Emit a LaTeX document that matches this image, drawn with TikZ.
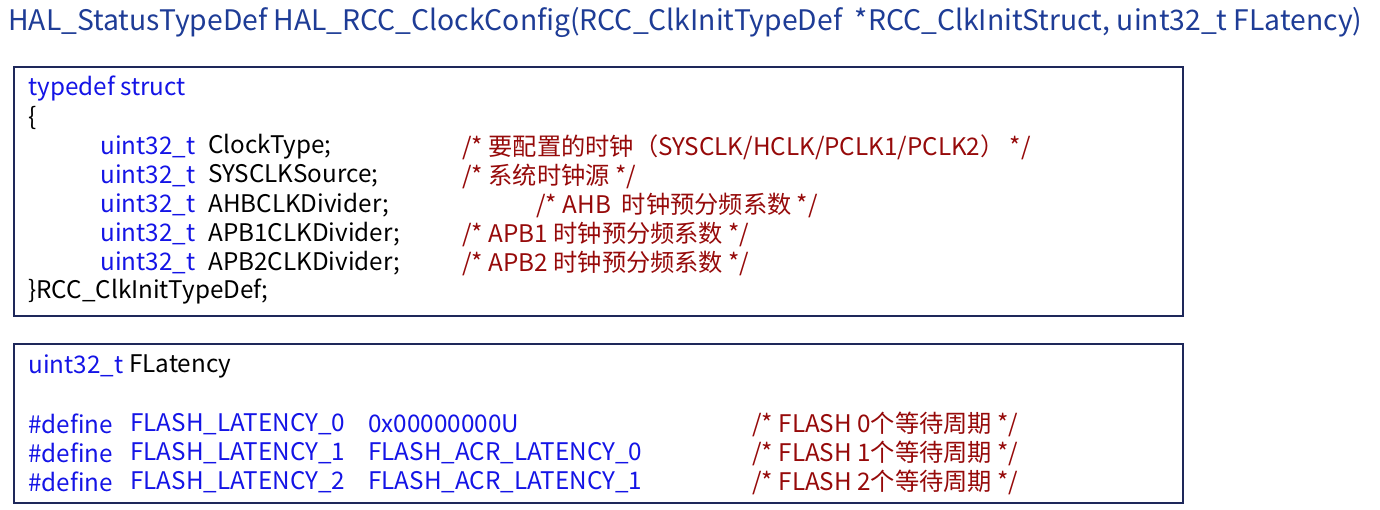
\documentclass[tikz,border=0pt]{standalone}
\usepackage{fontspec}
\setmainfont{Noto Sans CJK SC}
\definecolor{kw}{RGB}{20,20,230}
\definecolor{cm}{RGB}{150,10,10}
\definecolor{tt}{RGB}{30,60,150}
\definecolor{bd}{RGB}{30,40,90}
\begin{document}
\begin{tikzpicture}[x=0.02cm,y=-0.02cm,
 t/.style={anchor=west,inner sep=0pt,font=\fontsize{13.8pt}{15pt}\selectfont},
 k/.style={t,text=kw}, c/.style={t,text=cm},
 box/.style={draw=bd,line width=1.2pt}]
\useasboundingbox (0,0) rectangle (1380,510);
\node[anchor=west,inner sep=0pt,text=tt,font=\fontsize{16.1pt}{17pt}\selectfont] (title) at (8,22) {HAL\_StatusTypeDef HAL\_RCC\_ClockConfig(RCC\_ClkInitTypeDef\ \ *RCC\_ClkInitStruct, uint32\_t FLatency)};
\draw[box] (14,67) rectangle (1183,316);
\draw[box] (14,344) rectangle (1183,503);
\node[k] (a1) at (28,89) {typedef struct};
\node[t] (a2) at (28,118) {\{};
\foreach \y/\n/\cmt/\cx in {147/ClockType;/{/* 要配置的时钟（SYSCLK/HCLK/PCLK1/PCLK2） */}/462,
 176/SYSCLKSource;/{/* 系统时钟源 */}/462,
 205/AHBCLKDivider;/{/* AHB\ \ 时钟预分频系数 */}/536,
 234/APB1CLKDivider;/{/* APB1 时钟预分频系数 */}/462,
 263/APB2CLKDivider;/{/* APB2 时钟预分频系数 */}/462}{
 \node[k] (u\y) at (100,\y) {uint32\_t};
 \node[t] (n\y) at (208,\y) {\n};
 \node[c] (c\y) at (\cx,\y) {\cmt};
}
\node[t] (a3) at (28,292) {\}RCC\_ClkInitTypeDef;};
\node[k] (b1) at (28,366) {uint32\_t};
\node[t] (b2) at (129,366) {FLatency};
\foreach \y/\i/\v in {424/0/0x00000000U,453/1/FLASH\_ACR\_LATENCY\_0,482/2/FLASH\_ACR\_LATENCY\_1}{
 \node[k] (d\y) at (28,\y) {\#define};
 \node[k] (f\y) at (130,\y) {FLASH\_LATENCY\_\i};
 \node[k] (v\y) at (368,\y) {\v};
 \node[c] (e\y) at (752,\y) {/* FLASH \i 个等待周期 */};
}
\end{tikzpicture}
\end{document}
